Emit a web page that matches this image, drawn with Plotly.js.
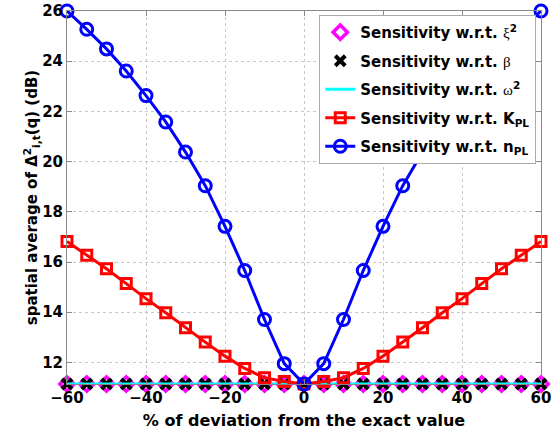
<!DOCTYPE html>
<html>
<head>
<meta charset="utf-8">
<script src="https://cdn.plot.ly/plotly-3.0.1.min.js"></script>
<style>html,body{margin:0;padding:0;background:#fff;}#chart{width:551px;height:434px;}</style>
</head>
<body>
<div id="chart"></div>
<script>
// Data
const deviation = [-60,-55,-50,-45,-40,-35,-30,-25,-20,-15,-10,-5,0,5,10,15,20,25,30,35,40,45,50,55,60];
const sensXi2 =   [11.14,11.14,11.14,11.14,11.14,11.14,11.14,11.14,11.14,11.14,11.14,11.14,11.14,11.14,11.14,11.14,11.14,11.14,11.14,11.14,11.14,11.14,11.14,11.14,11.14];
const sensBeta =  [11.14,11.14,11.14,11.14,11.14,11.14,11.14,11.14,11.14,11.14,11.14,11.14,11.14,11.14,11.14,11.14,11.14,11.14,11.14,11.14,11.14,11.14,11.14,11.14,11.14];
const sensOmega2 = [11.14,11.14,11.14,11.14,11.14,11.14,11.14,11.14,11.14,11.14,11.14,11.14,11.14,11.14,11.14,11.14,11.14,11.14,11.14,11.14,11.14,11.14,11.14,11.14,11.14];
const sensKPL =   [16.82,16.27,15.73,15.14,14.54,13.98,13.38,12.81,12.25,11.76,11.39,11.24,11.14,11.24,11.39,11.76,12.25,12.81,13.38,13.98,14.54,15.14,15.73,16.27,16.82];
const sensNPL =   [26.00,25.27,24.49,23.61,22.63,21.58,20.38,19.04,17.42,15.66,13.71,11.95,11.14,11.95,13.71,15.66,17.42,19.04,20.38,21.58,22.63,23.61,24.49,25.27,26.00];
const xTicks = [-60,-40,-20,0,20,40,60];
const yTicks = [12,14,16,18,20,22,24,26];
const names = [
  'Sensitivity w.r.t. <span style="font-family:\'Liberation Serif\';font-weight:normal">ξ</span><sup>2</sup>',
  'Sensitivity w.r.t. <span style="font-family:\'Liberation Serif\';font-weight:normal">β</span>',
  'Sensitivity w.r.t. <span style="font-family:\'Liberation Serif\';font-weight:normal">ω</span><sup>2</sup>',
  'Sensitivity w.r.t. K<sub>PL</sub>',
  'Sensitivity w.r.t. n<sub>PL</sub>'
];

const FONT = 'DejaVu Sans';
const traces = [
  {x: deviation, y: sensXi2, name: names[0], legendgroup: 'a', mode: 'markers', cliponaxis: false,
   marker: {symbol: 'diamond-open', size: 11, color: '#ff00ff', line: {width: 3.5, color: '#ff00ff'}}},
  {x: deviation, y: sensBeta, name: names[1], legendgroup: 'b', mode: 'markers', cliponaxis: false,
   marker: {symbol: 'x-thin-open', size: 10, color: '#000000', line: {width: 4, color: '#000000'}}},
  {x: deviation, y: sensOmega2, name: names[2], legendgroup: 'c', mode: 'lines', cliponaxis: false,
   line: {color: '#00ffff', width: 3}},
  {x: deviation, y: sensKPL, name: names[3], legendgroup: 'd', mode: 'lines+markers', cliponaxis: false,
   line: {color: '#ff0000', width: 3},
   marker: {symbol: 'square-open', size: 10, color: '#ff0000', line: {width: 3, color: '#ff0000'}}},
  {x: deviation, y: sensNPL, name: names[4], legendgroup: 'e', mode: 'lines+markers', cliponaxis: false,
   line: {color: '#0000ff', width: 3},
   marker: {symbol: 'circle-open', size: 12, color: '#0000ff', line: {width: 3, color: '#0000ff'}}}
];

const axisCommon = {
  showline: true, linecolor: '#888888', linewidth: 1, mirror: 'ticks',
  ticks: 'inside', ticklen: 5, tickcolor: '#888888',
  showgrid: true, gridcolor: '#c8c8c8', griddash: 'dot', gridwidth: 1,
  zeroline: false, ticklabeloverflow: 'allow',
  tickfont: {family: FONT, size: 15, color: '#000', weight: 'bold'}
};

const layout = {
  width: 551, height: 434,
  margin: {l: 67, r: 10, t: 11, b: 50},
  paper_bgcolor: '#ffffff', plot_bgcolor: '#ffffff',
  showlegend: true,
  font: {family: FONT, color: '#000'},
  xaxis: Object.assign({}, axisCommon, {
    range: [-60, 60], tickvals: xTicks, ticktext: xTicks.map(v => v < 0 ? '\u2212' + Math.abs(v) : String(v)),
    title: {text: '% of deviation from the exact value', standoff: 8,
            font: {family: FONT, size: 16, color: '#000', weight: 'bold'}}
  }),
  yaxis: Object.assign({}, axisCommon, {
    range: [11.14, 26], tickvals: yTicks, ticktext: yTicks.map(String),
    title: {text: 'spatial average of Δ<sup>2</sup><sub>i,t</sub>(q) (dB)', standoff: 0,
            font: {family: FONT, size: 15, color: '#000', weight: 'bold'}}
  }),
  legend: {
    x: 0.99, y: 0.9893, xanchor: 'right', yanchor: 'top',
    bgcolor: '#ffffff', bordercolor: '#aaaaaa', borderwidth: 1,
    font: {family: FONT, size: 15, color: '#000', weight: 'bold'},
    itemwidth: 30, tracegroupgap: 6, traceorder: 'grouped'
  }
};

Plotly.newPlot('chart', traces, layout, {displayModeBar: false, staticPlot: true});
</script>
</body>
</html>
